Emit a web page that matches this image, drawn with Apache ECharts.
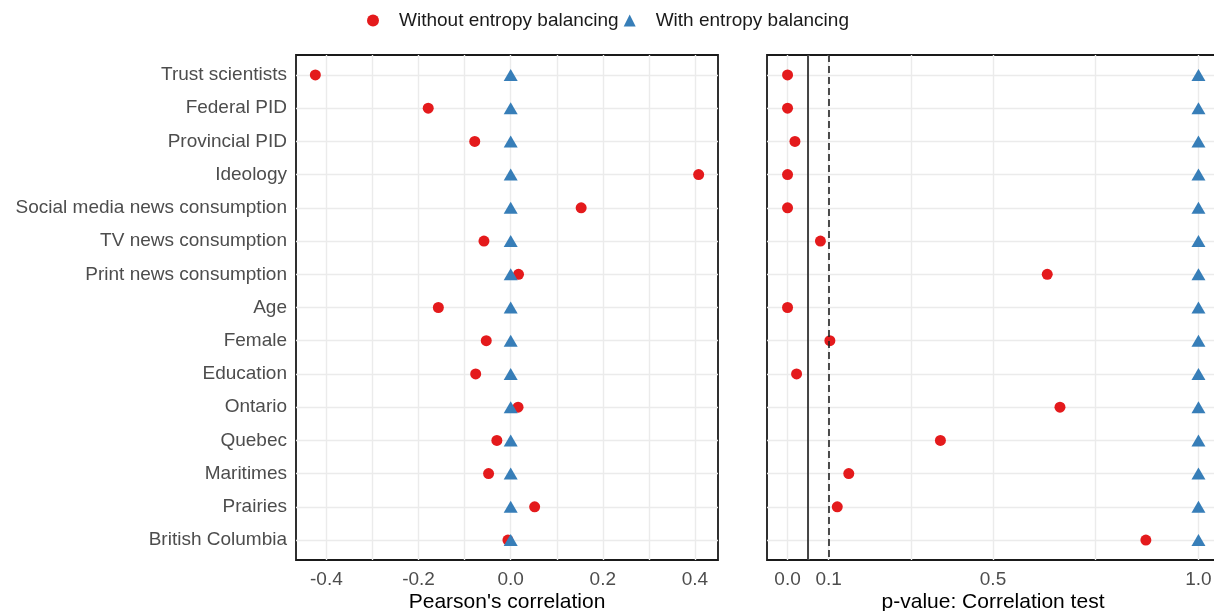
<!DOCTYPE html>
<html>
<head>
<meta charset="utf-8">
<style>
html,body{margin:0;padding:0;background:#fff;overflow:hidden;}
#chart{width:1230px;height:611px;}
</style>
<script src="https://cdn.jsdelivr.net/npm/echarts@6/dist/echarts.min.js"></script>
</head>
<body>
<div id="chart"></div>
<script>
const categories = ['Trust scientists', 'Federal PID', 'Provincial PID', 'Ideology', 'Social media news consumption', 'TV news consumption', 'Print news consumption', 'Age', 'Female', 'Education', 'Ontario', 'Quebec', 'Maritimes', 'Prairies', 'British Columbia'];
const corrWithout = [-0.424, -0.179, -0.078, 0.408, 0.153, -0.058, 0.017, -0.157, -0.053, -0.076, 0.016, -0.030, -0.048, 0.052, -0.006];
const corrWith = [0, 0, 0, 0, 0, 0, 0, 0, 0, 0, 0, 0, 0, 0, 0];
const pWithout = [0.0, 0.0, 0.018, 0.0, 0.0, 0.080, 0.632, 0.0, 0.103, 0.022, 0.663, 0.372, 0.149, 0.121, 0.872];
const pWith = [1, 1, 1, 1, 1, 1, 1, 1, 1, 1, 1, 1, 1, 1, 1];
const corrTicks = [-0.4, -0.2, 0.0, 0.2, 0.4];
const corrGrid = [-0.4, -0.3, -0.2, -0.1, 0.0, 0.1, 0.2, 0.3, 0.4];
const pTicks = [0.0, 0.1, 0.5, 1.0];
const pGrid = [0.0, 0.05, 0.1, 0.3, 0.5, 0.75, 1.0];
const pLines = [0.05, 0.1];
const seriesNames = ['Without entropy balancing', 'With entropy balancing'];

const FONT = '"Liberation Sans", Arial, sans-serif';
const RED = '#E41A1C', BLUE = '#377EB8';
const rowIdx = categories.map((c, i) => i);

function toPts(arr) { return arr.map((v, i) => [v, i]); }

const chart = echarts.init(document.getElementById('chart'), null, {renderer: 'canvas'});

const gridStyle = {show: true, borderColor: '#1a1a1a', borderWidth: 1.8, backgroundColor: '#fff', containLabel: false, outerBoundsMode: 'none'};
const splitStyle = {show: true, lineStyle: {color: '#EBEBEB', width: 1.4}};

function yAxis(gridIndex, showLabels) {
  return {
    type: 'value', gridIndex: gridIndex, min: -0.6, max: 14.6, inverse: true,
    axisLine: {show: false},
    axisTick: {show: false, customValues: rowIdx},
    axisLabel: {
      show: showLabels, customValues: rowIdx, margin: 9,
      color: '#4D4D4D', fontSize: 19, fontFamily: FONT,
      formatter: v => categories[Math.round(v)]
    },
    splitLine: splitStyle
  };
}

const option = {
  backgroundColor: '#fff',
  animation: false,
  legend: {
    left: 362, top: 6,
    itemWidth: 12, itemHeight: 12, itemGap: 5,
    textStyle: {fontSize: 19, fontFamily: FONT, color: '#1a1a1a', padding: [0, 0, 0, 15]},
    data: [
      {name: seriesNames[0], icon: 'circle', itemStyle: {color: RED}},
      {name: seriesNames[1], icon: 'triangle', itemStyle: {color: BLUE}}
    ]
  },
  grid: [
    Object.assign({left: 296, top: 55, width: 422, height: 505}, gridStyle),
    Object.assign({left: 767, top: 55, width: 452, height: 505}, gridStyle)
  ],
  xAxis: [
    {
      type: 'value', gridIndex: 0, min: -0.466, max: 0.45,
      name: "Pearson's correlation", nameLocation: 'middle', nameGap: 32, nameMoveOverlap: false,
      nameTextStyle: {fontSize: 21, fontFamily: FONT, color: '#000', verticalAlign: 'top'},
      axisLine: {show: false},
      axisTick: {show: false, customValues: corrGrid},
      axisLabel: {customValues: corrTicks, margin: 10, color: '#4D4D4D', fontSize: 19, fontFamily: FONT,
        formatter: v => v.toFixed(1)},
      splitLine: splitStyle
    },
    {
      type: 'value', gridIndex: 1, min: -0.05, max: 1.05,
      name: 'p-value: Correlation test', nameLocation: 'middle', nameGap: 32, nameMoveOverlap: false,
      nameTextStyle: {fontSize: 21, fontFamily: FONT, color: '#000', verticalAlign: 'top'},
      axisLine: {show: false},
      axisTick: {show: false, customValues: pGrid},
      axisLabel: {customValues: pTicks, margin: 10, color: '#4D4D4D', fontSize: 19, fontFamily: FONT,
        formatter: v => v.toFixed(1)},
      splitLine: splitStyle
    }
  ],
  yAxis: [yAxis(0, true), yAxis(1, false)],
  series: [
    {
      name: seriesNames[0], type: 'scatter', xAxisIndex: 0, yAxisIndex: 0,
      symbol: 'circle', symbolSize: 11, itemStyle: {color: RED, opacity: 1}, z: 3,
      data: toPts(corrWithout)
    },
    {
      name: seriesNames[1], type: 'scatter', xAxisIndex: 0, yAxisIndex: 0,
      symbol: 'triangle', symbolSize: [14, 12], itemStyle: {color: BLUE, opacity: 1}, z: 4,
      data: toPts(corrWith)
    },
    {
      name: seriesNames[0], type: 'scatter', xAxisIndex: 1, yAxisIndex: 1,
      symbol: 'circle', symbolSize: 11, itemStyle: {color: RED, opacity: 1}, z: 3,
      data: toPts(pWithout),
      markLine: {
        silent: true, symbol: 'none', label: {show: false}, animation: false,
        data: [
          {xAxis: pLines[0], lineStyle: {color: '#333', width: 1.8, type: 'solid'}},
          {xAxis: pLines[1], lineStyle: {color: '#222', width: 1.6, type: [7, 4]}}
        ]
      }
    },
    {
      name: seriesNames[1], type: 'scatter', xAxisIndex: 1, yAxisIndex: 1,
      symbol: 'triangle', symbolSize: [14, 12], itemStyle: {color: BLUE, opacity: 1}, z: 4,
      data: toPts(pWith)
    }
  ]
};
chart.setOption(option);
</script>
</body>
</html>
